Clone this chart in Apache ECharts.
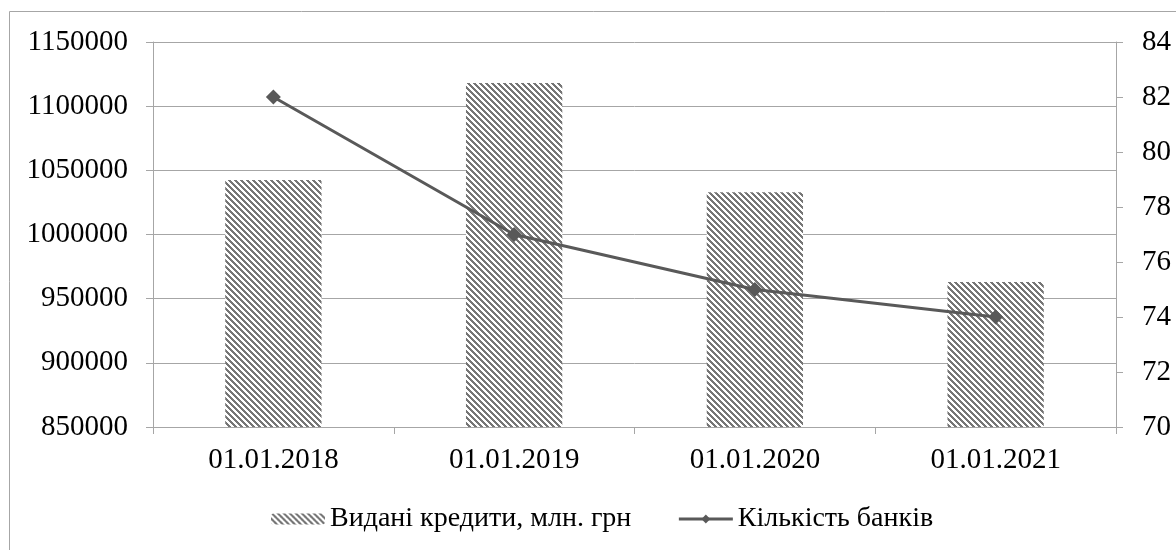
<!DOCTYPE html>
<html>
<head>
<meta charset="utf-8">
<script src="https://cdn.jsdelivr.net/npm/echarts@6/dist/echarts.min.js"></script>
<style>
  html, body { margin: 0; padding: 0; background: #fff; }
  #chart { width: 1176px; height: 550px; }
</style>
</head>
<body>
<div id="chart"></div>
<script>
// дані
const categories = ['01.01.2018', '01.01.2019', '01.01.2020', '01.01.2021'];
const credits = [1042500, 1118000, 1033000, 963000];
const banks = [82, 77, 75, 74];
const creditsName = 'Видані кредити, млн. грн';
const banksName = 'Кількість банків';

// штрихування для стовпців
function makeHatch() {
  const size = 6;
  const c = document.createElement('canvas');
  c.width = size;
  c.height = size;
  const ctx = c.getContext('2d');
  ctx.fillStyle = '#ffffff';
  ctx.fillRect(0, 0, size, size);
  ctx.fillStyle = '#767676';
  for (let y = 0; y < size; y++) {
    for (let x = 0; x < size; x++) {
      if (((x - y) % size + size) % size < 3) ctx.fillRect(x, y, 1, 1);
    }
  }
  return c;
}
const hatch = { image: makeHatch(), repeat: 'repeat' };

const font = 'Liberation Serif';
const axisGray = '#a6a6a6';
const fs = 29;

const chart = echarts.init(document.getElementById('chart'));
chart.setOption({
  animation: false,
  textStyle: { fontFamily: font },
  graphic: [{
    type: 'rect',
    shape: { x: 9.5, y: 11.5, width: 1300, height: 700 },
    style: { fill: 'none', stroke: axisGray, lineWidth: 1 },
    silent: true
  }],
  grid: { left: 153, right: 60, top: 42, height: 385 },
  legend: {
    left: 266,
    bottom: 12,
    itemWidth: 54,
    itemHeight: 11,
    itemGap: 46,
    textStyle: { fontFamily: font, fontSize: 28, color: '#000' },
    data: [
      { name: creditsName, itemStyle: { color: hatch, borderWidth: 0 } },
      { name: banksName, lineStyle: { width: 3, color: '#595959' } }
    ]
  },
  xAxis: {
    type: 'category',
    data: categories,
    boundaryGap: true,
    axisLine: { lineStyle: { color: axisGray, width: 1 } },
    axisTick: { show: true, length: 7, lineStyle: { color: axisGray } },
    axisLabel: { color: '#000', fontSize: fs, fontFamily: font, margin: 19 }
  },
  yAxis: [
    {
      type: 'value',
      min: 850000,
      max: 1150000,
      interval: 50000,
      axisLine: { show: true, lineStyle: { color: axisGray } },
      axisTick: { show: true, length: 7, lineStyle: { color: axisGray } },
      axisLabel: { color: '#000', fontSize: fs, fontFamily: font, margin: 25, formatter: (v) => String(v) },
      splitLine: { lineStyle: { color: axisGray, width: 1 } }
    },
    {
      type: 'value',
      min: 70,
      max: 84,
      interval: 2,
      position: 'right',
      axisLine: { show: true, lineStyle: { color: axisGray } },
      axisTick: { show: true, length: 7, lineStyle: { color: axisGray } },
      axisLabel: { color: '#000', fontSize: fs, fontFamily: font, margin: 26 },
      splitLine: { show: false }
    }
  ],
  series: [
    {
      name: creditsName,
      type: 'bar',
      data: credits,
      barWidth: '40%',
      itemStyle: { color: hatch }
    },
    {
      name: banksName,
      type: 'line',
      yAxisIndex: 1,
      data: banks,
      symbol: 'diamond',
      symbolSize: 15,
      lineStyle: { color: '#595959', width: 3 },
      itemStyle: { color: '#595959' }
    }
  ]
});
</script>
</body>
</html>
